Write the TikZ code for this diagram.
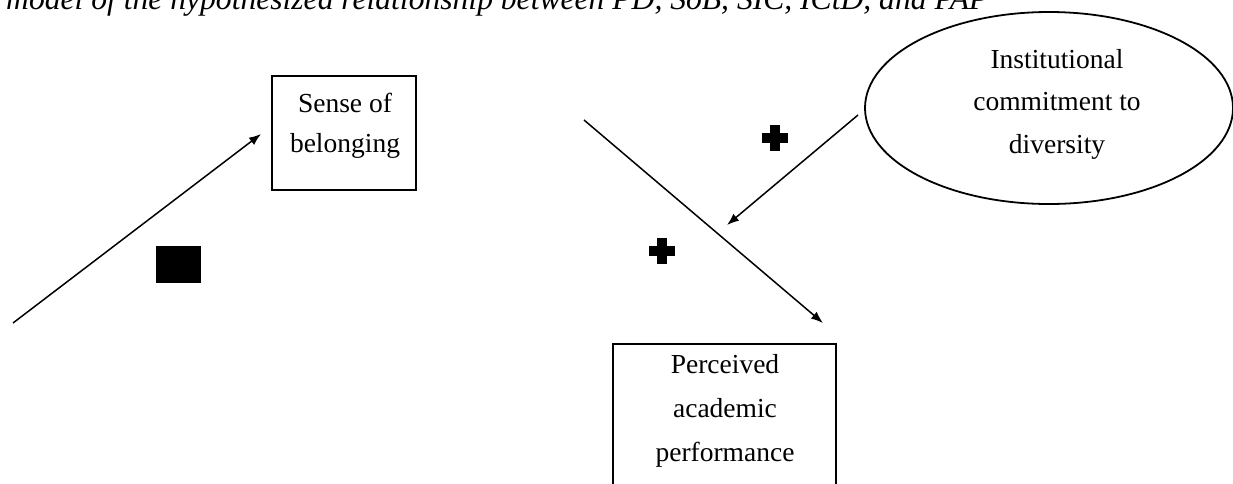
\documentclass[tikz,border=0pt]{standalone}
\usepackage{fontspec}
\setmainfont{Liberation Serif}
\usetikzlibrary{arrows.meta,shapes.geometric}
\tikzset{
  boxnode/.style={draw, line width=1.8pt, rectangle, inner sep=0pt},
  ellnode/.style={draw, line width=1.8pt, ellipse, inner sep=0pt},
  txt/.style={align=center, inner sep=0pt},
  conn/.style={line width=1.5pt, -{Latex[length=12pt,width=9pt]}},
  plussign/.pic={\fill (-13,-5) rectangle (13,5); \fill (-5,-13) rectangle (5,13);}
}
\begin{document}
\begin{tikzpicture}[x=1pt,y=-1pt]
\useasboundingbox (0,0) rectangle (1233,483);
% title (clipped at top)
\node[anchor=base west, inner sep=0pt, font=\fontsize{31.6}{38}\selectfont\itshape] (title) at (6,9)
  {model of the hypothesized relationship between PD, SoB, SIC, ICtD, and PAP};
% boxes
\node[boxnode, minimum width=144pt, minimum height=114pt] (sob) at (344,133) {};
\node[txt, font=\fontsize{27.5}{40}\selectfont] (sobtxt) at (345,124) {\strut Sense of\\\strut belonging};
\node[ellnode, minimum width=368pt, minimum height=192pt] (icd) at (1049,108) {};
\node[txt, font=\fontsize{27.5}{42.5}\selectfont] (icdtxt) at (1057,102) {\strut Institutional\\\strut commitment to\\\strut diversity};
\node[boxnode, minimum width=223pt, minimum height=156pt] (pap) at (724.5,422) {};
\node[txt, font=\fontsize{27.5}{44}\selectfont] (paptxt) at (725,409) {\strut Perceived\\\strut academic\\\strut performance};
% connector end points
\coordinate (a1s) at (13,323);
\coordinate (a1e) at (261,134);
\coordinate (a2s) at (584,120);
\coordinate (a2e) at (823,323);
\coordinate (a3s) at (858,115);
\coordinate (a3e) at (727,225);
\draw[conn] (a1s) -- (a1e);
\draw[conn] (a2s) -- (a2e);
\draw[conn] (a3s) -- (a3e);
% signs
\fill (156,246) rectangle (201,283);
\pic at (775,138) {plussign};
\pic at (662,251) {plussign};
\end{tikzpicture}
\end{document}
